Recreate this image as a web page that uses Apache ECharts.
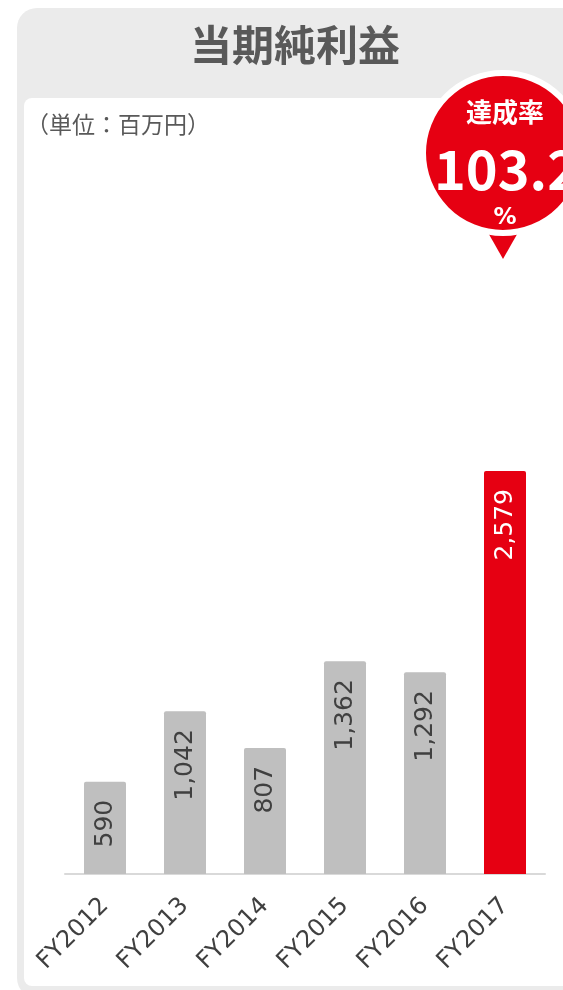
<!DOCTYPE html>
<html>
  <head>
    <meta charset="utf-8">
    <title>当期純利益</title>
    <style>
      html, body { margin: 0; padding: 0; background: #ffffff; }
      #chart { width: 563px; height: 990px; }
    </style>
  </head>
  <body>
    <div id="chart"></div>
    <script src="https://cdn.jsdelivr.net/npm/echarts@6/dist/echarts.min.js"></script>
    <script>
      // data
      var years = ['FY2012', 'FY2013', 'FY2014', 'FY2015', 'FY2016', 'FY2017'];
      var profit = [590, 1042, 807, 1362, 1292, 2579];
      var highlightYear = 'FY2017';
      var achievementRate = '103.2';

      var JP = '"Noto Sans CJK JP", "Noto Sans", sans-serif';
      var LATIN = '"DejaVu Sans", "Noto Sans", sans-serif';
      var GREY = '#bfbfbf';
      var RED = '#e60012';

      var barData = profit.map(function (v, i) {
        var hot = years[i] === highlightYear;
        return {
          value: v,
          itemStyle: { color: hot ? RED : GREY },
          label: { color: hot ? '#ffffff' : '#404040' }
        };
      });

      var chart = echarts.init(document.getElementById('chart'));
      chart.setOption({
        animation: false,
        textStyle: { fontFamily: LATIN },
        title: [
          {
            text: '当期純利益',
            left: 290, top: 19, textAlign: 'center',
            textStyle: { fontSize: 42, fontWeight: 'bold', color: '#595959', fontFamily: JP }
          },
          {
            text: '（単位：百万円）',
            left: 21, top: 108,
            textStyle: { fontSize: 23, fontWeight: 'normal', color: '#595959', fontFamily: JP }
          }
        ],
        grid: { left: 65, right: 18, top: 249, bottom: 116 },
        xAxis: {
          type: 'category',
          data: years,
          axisLine: { lineStyle: { color: '#d9d9d9', width: 2 } },
          axisTick: { show: false },
          axisLabel: { rotate: 45, margin: 28, fontSize: 24, color: '#404040', fontFamily: LATIN }
        },
        yAxis: { type: 'value', min: 0, max: 4000, show: false },
        series: [{
          type: 'bar',
          data: barData,
          barWidth: 42,
          itemStyle: { borderRadius: [2, 2, 0, 0] },
          label: {
            show: true,
            position: 'insideTop',
            distance: 18,
            rotate: 90,
            align: 'right',
            verticalAlign: 'middle',
            fontSize: 25,
            fontFamily: LATIN,
            formatter: function (p) { return p.value.toLocaleString('en-US'); }
          }
        }],
        graphic: [
          // card background
          { type: 'rect', z: -10, silent: true,
            shape: { x: 17, y: 8, width: 580, height: 990, r: 20 },
            style: { fill: '#ebebeb' } },
          { type: 'rect', z: -9, silent: true,
            shape: { x: 24, y: 98, width: 580, height: 888, r: 8 },
            style: { fill: '#ffffff' } },
          // achievement bubble
          { type: 'polygon', z: 100, silent: true,
            shape: { points: [[482, 222], [524, 222], [503, 259]] },
            style: { fill: RED } },
          { type: 'circle', z: 101, silent: true,
            shape: { cx: 503, cy: 153, r: 80 },
            style: { fill: RED, stroke: '#ffffff', lineWidth: 6 } },
          { type: 'text', z: 102, silent: true,
            style: { x: 505, y: 112, text: '達成率', fill: '#ffffff', fontSize: 26, fontWeight: 'bold',
                     fontFamily: JP, align: 'center', verticalAlign: 'middle' } },
          { type: 'text', z: 102, silent: true,
            style: { x: 434, y: 169, text: achievementRate, fill: '#ffffff', fontSize: 54, fontWeight: 'bold',
                     fontFamily: JP, align: 'left', verticalAlign: 'middle' } },
          { type: 'text', z: 102, silent: true,
            style: { x: 505, y: 218, text: '%', fill: '#ffffff', fontSize: 23, fontWeight: 'bold',
                     fontFamily: LATIN, align: 'center', verticalAlign: 'middle' } }
        ]
      });
    </script>
  </body>
</html>
